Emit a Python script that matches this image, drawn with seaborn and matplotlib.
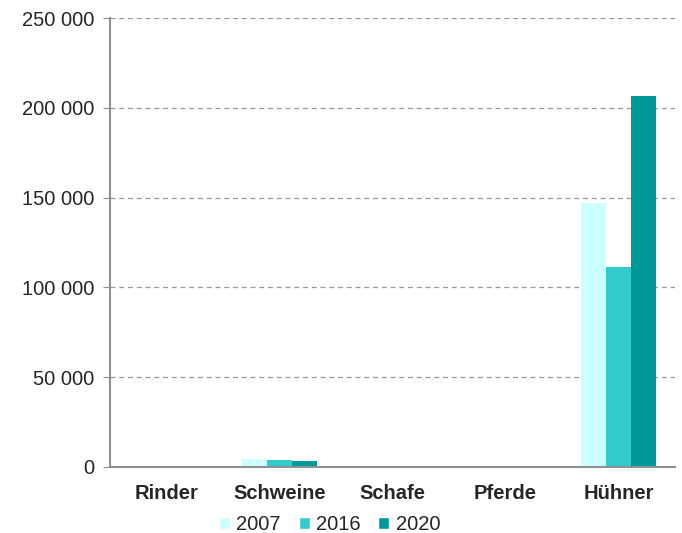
import pandas as pd
import numpy as np
import matplotlib.pyplot as plt
import seaborn as sns
from matplotlib.ticker import FuncFormatter
from matplotlib.patches import Patch

tiere = ["Rinder", "Schweine", "Schafe", "Pferde", "Hühner"]
jahre = ["2007", "2016", "2020"]
werte_2007 = [600, 4500, 150, 100, 147000]
werte_2016 = [400, 3800, 120, 80, 111500]
werte_2020 = [350, 3500, 100, 70, 206500]
farben = ["#CCFFFF", "#33CCCC", "#009999"]

df = pd.DataFrame({
    "Tier": tiere * 3,
    "Jahr": [j for j in jahre for _ in tiere],
    "Anzahl": werte_2007 + werte_2016 + werte_2020,
})

sns.set_style("white")
plt.rcParams["font.family"] = ["Liberation Sans", "DejaVu Sans"]

fig, ax = plt.subplots(figsize=(6.82, 5.33), dpi=100)
fig.subplots_adjust(left=0.161, right=0.99, top=0.966, bottom=0.124)

sns.barplot(data=df, x="Tier", y="Anzahl", hue="Jahr", hue_order=jahre,
            palette=farben, width=0.66, gap=0, saturation=1, ax=ax,
            legend=False, linewidth=0)

ax.set_ylim(0, 250000)
ax.set_yticks(np.arange(0, 250001, 50000))
ax.yaxis.set_major_formatter(FuncFormatter(lambda v, p: f"{int(v):,}".replace(",", " ")))
ax.set_xlabel("")
ax.set_ylabel("")
ax.grid(axis="y", color="#999999", linestyle=(0, (4, 3)), linewidth=0.9)
ax.set_axisbelow(True)
for s in ["top", "right"]:
    ax.spines[s].set_visible(False)
for s in ["left", "bottom"]:
    ax.spines[s].set_color("#909090")
    ax.spines[s].set_linewidth(1.5)
ax.tick_params(axis="y", left=True, length=5, color="#909090", labelsize=14.5, pad=6)
ax.tick_params(axis="x", bottom=False, labelsize=14.5, pad=9)
for lbl in ax.get_xticklabels():
    lbl.set_fontweight("bold")

handles = [Patch(facecolor=c, label=j) for c, j in zip(farben, jahre)]
fig.legend(handles=handles, loc="lower center", ncol=3, frameon=False,
           bbox_to_anchor=(0.483, -0.036), fontsize=14.5, handlelength=0.55,
           handleheight=0.55, handletextpad=0.3, columnspacing=0.9)

fig.savefig("out.png", dpi=100)
